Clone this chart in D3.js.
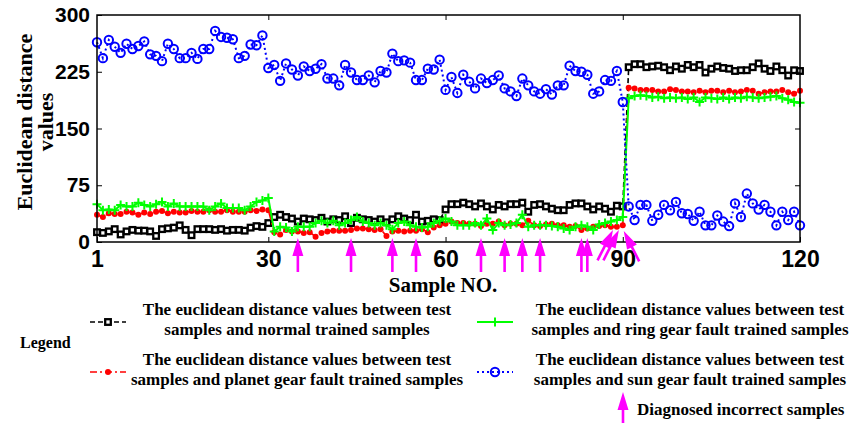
<!DOCTYPE html>
<html>
<head>
<meta charset="utf-8">
<script src="https://cdn.jsdelivr.net/npm/d3@7"></script>
<style>
  body { margin: 0; background: #fff; }
  .serif { font-family: "Liberation Serif", "Times New Roman", serif; font-weight: bold; }
  .tick text { font-family: "Liberation Sans", Arial, sans-serif; font-weight: bold; fill: #000; }
  .tick line { stroke: #000; }
</style>
</head>
<body>
<svg></svg>
<script>
let w = 851;
let h = 423;
let plotL = 97, plotR = 800, plotT = 15, plotB = 242;

const xTicks = [1, 30, 60, 90, 120];
const yTicks = [0, 75, 150, 225, 300];

// distance to normal trained samples
const normal = [
  13,12,14,17,10,14,16,15,15,14,8,17,18,19,22,16,9,17,17,17,16,17,15,16,16,15,19,21,20,25,
  33,36,33,31,27,31,30,29,32,27,30,29,34,25,32,30,29,27,30,26,30,34,31,29,36,27,28,30,29,43,
  50,50,52,50,47,51,47,43,49,47,50,50,52,40,49,50,47,44,42,42,49,51,51,47,43,47,44,40,48,47,
  231,235,235,231,232,233,231,227,232,229,234,231,234,224,229,232,230,229,226,227,227,231,236,229,226,232,227,220,227,226
];
// distance to planet gear fault trained samples
const planet = [
  36,33,38,37,37,40,39,36,39,37,40,41,38,40,39,39,41,40,40,42,40,40,42,40,40,40,42,41,43,42,
  13,10,16,14,14,12,13,7,12,14,15,15,15,16,18,18,17,16,17,8,14,15,14,15,15,17,13,19,22,24,
  27,25,25,24,24,21,24,24,27,22,24,24,22,28,22,21,23,24,22,22,20,21,16,18,20,21,22,20,20,22,
  204,203,201,201,201,199,199,202,201,199,199,198,200,198,200,200,198,200,198,199,201,200,196,198,199,199,201,198,196,200
];
// distance to ring gear fault trained samples
const ring = [
  50,42,43,42,49,47,47,52,49,47,50,53,47,51,47,47,47,47,47,42,47,51,45,45,45,42,47,53,55,58,
  14,20,19,14,20,20,20,25,28,25,28,22,25,29,33,27,25,22,25,22,17,25,27,22,20,19,20,25,28,31,
  27,22,22,22,25,22,31,16,25,22,23,25,36,20,22,22,22,21,20,18,16,20,22,20,16,23,25,27,29,33,
  190,193,194,193,191,192,190,191,190,191,189,191,185,191,190,189,191,189,191,190,192,191,190,191,192,193,190,188,185,184
];
// distance to sun gear fault trained samples
const sun = [
  264,243,267,258,250,262,255,259,265,248,246,239,262,255,243,243,250,242,255,255,279,271,270,268,243,246,261,260,273,230,
  234,213,236,228,220,232,226,229,235,216,216,207,234,224,214,214,220,211,226,224,249,239,240,237,214,214,229,228,241,201,
  218,197,221,212,203,216,210,214,220,203,199,193,216,207,199,196,202,195,207,207,233,226,225,221,196,199,214,213,226,185,
  47,29,49,49,28,36,49,42,53,38,37,28,40,22,22,35,27,21,51,33,64,51,43,49,40,22,40,29,40,22
];

// misdiagnosed samples (arrows)
const wrongUp = [35, 44, 51, 55, 66, 70, 73, 76, 83, 84];
const wrongFromLeft = [88, 89];
const wrongFromRight = [90];

const legendLabels = [
  ['The euclidean distance values between test', 'samples and normal trained samples'],
  ['The euclidean distance values between test', 'samples and planet gear fault trained samples'],
  ['The euclidean distance values between test', 'samples and ring gear fault trained samples'],
  ['The euclidean distance values between test', 'samples and sun gear fault trained samples']
];

const svg = d3.select('svg')
  .attr('width', w)
  .attr('height', h)

// Scales
const xScale = d3.scaleLinear()
  .domain([1, 120])
  .range([plotL, plotR])

const yScale = d3.scaleLinear()
  .domain([0, 300])
  .range([plotB, plotT])

const series = [
  {values: normal, color: '#000000', dash: '5,3', width: 1.6, marker: 'square'},
  {values: planet, color: '#ff0000', dash: '7,3,2,3', width: 1.6, marker: 'dot'},
  {values: ring, color: '#00ff00', dash: null, width: 2, marker: 'plus'},
  {values: sun, color: '#0000ff', dash: '2,3', width: 2, marker: 'circle'}
];

function drawMarker(g, type, color) {
  if (type === 'square') {
    g.append('rect').attr('x', -2.8).attr('y', -2.8).attr('width', 5.6).attr('height', 5.6)
      .attr('fill', '#fff').attr('stroke', color).attr('stroke-width', 2.3)
  } else if (type === 'dot') {
    g.append('circle').attr('r', 3).attr('fill', color)
  } else if (type === 'plus') {
    g.append('path').attr('d', 'M-4.5,0H4.5M0,-4.5V4.5')
      .attr('stroke', color).attr('stroke-width', 2).attr('fill', 'none')
  } else {
    g.append('circle').attr('r', 4.2).attr('fill', 'none')
      .attr('stroke', color).attr('stroke-width', 2)
  }
}

const line = d3.line()
  .x((d, i) => xScale(i + 1))
  .y(d => yScale(d))

// Draw
series.forEach(s => {
  svg.append('path')
    .datum(s.values)
    .attr('d', line)
    .attr('fill', 'none')
    .attr('stroke', s.color)
    .attr('stroke-width', s.width)
    .attr('stroke-dasharray', s.dash)

  svg.append('g')
    .selectAll('g')
    .data(s.values)
    .enter()
    .append('g')
    .attr('transform', (d, i) => `translate(${xScale(i + 1)},${yScale(d)})`)
    .each(function() { drawMarker(d3.select(this), s.marker, s.color) })
})

// Frame + axes
svg.append('rect')
  .attr('x', plotL).attr('y', plotT)
  .attr('width', plotR - plotL).attr('height', plotB - plotT)
  .attr('fill', 'none').attr('stroke', '#000').attr('stroke-width', 1.5)

const xAxis = svg.append('g')
  .attr('transform', `translate(0,${plotB})`)
  .call(d3.axisBottom(xScale).tickValues(xTicks).tickSizeInner(-5).tickSizeOuter(0).tickPadding(9))
xAxis.selectAll('text').style('font-size', '23px')

const yAxis = svg.append('g')
  .attr('transform', `translate(${plotL},0)`)
  .call(d3.axisLeft(yScale).tickValues(yTicks).tickSizeInner(-5).tickSizeOuter(0).tickPadding(7))
yAxis.selectAll('text').style('font-size', '21px')

svg.append('g')
  .attr('transform', `translate(0,${plotT})`)
  .call(d3.axisTop(xScale).tickValues(xTicks.slice(1, -1)).tickSizeInner(-5).tickSizeOuter(0).tickFormat(''))

svg.append('g')
  .attr('transform', `translate(${plotR},0)`)
  .call(d3.axisRight(yScale).tickValues(yTicks.slice(1, -1)).tickSizeInner(-5).tickSizeOuter(0).tickFormat(''))

svg.selectAll('.domain').remove()

// Axis titles
svg.append('text')
  .attr('class', 'serif')
  .attr('x', 443).attr('y', 292)
  .attr('text-anchor', 'middle')
  .style('font-size', '21px')
  .text('Sample NO.')

const yTitle = svg.append('text')
  .attr('class', 'serif')
  .attr('transform', 'translate(32,122) rotate(-90)')
  .attr('text-anchor', 'middle')
  .style('font-size', '22px')
yTitle.append('tspan').attr('x', 0).attr('y', 0).text('Euclidean distance')
yTitle.append('tspan').attr('x', 0).attr('y', 21).text('values')

// Arrows
function arrow(x, y, angle, len) {
  const g = svg.append('g').attr('transform', `translate(${x},${y}) rotate(${angle})`)
  g.append('path')
    .attr('d', `M0,0L5.5,18L1.3,18L1.3,${len}L-1.3,${len}L-1.3,18L-5.5,18Z`)
    .attr('fill', '#ff00ff')
}

wrongUp.forEach(s => arrow(xScale(s), yScale(0) - 4, 0, 34))
wrongFromLeft.forEach(s => arrow(xScale(s) + 2, yScale(0) - 12, 27, 34))
wrongFromRight.forEach(s => arrow(xScale(s) + 1, yScale(0) - 11, -27, 34))

// Legend
svg.append('text')
  .attr('class', 'serif')
  .attr('x', 20).attr('y', 348)
  .style('font-size', '16px')
  .text('Legend')

const legendPos = [
  {lx: 90, tx: 297, y: 322},
  {lx: 90, tx: 297, y: 372},
  {lx: 477, tx: 690, y: 322},
  {lx: 477, tx: 690, y: 372}
];

series.forEach((s, i) => {
  const p = legendPos[i]
  svg.append('line')
    .attr('x1', p.lx).attr('x2', p.lx + 36)
    .attr('y1', p.y).attr('y2', p.y)
    .attr('stroke', s.color)
    .attr('stroke-width', s.width)
    .attr('stroke-dasharray', s.dash)
  const m = svg.append('g').attr('transform', `translate(${p.lx + 18},${p.y})`)
  drawMarker(m, s.marker, s.color)

  svg.append('text')
    .attr('class', 'serif')
    .attr('text-anchor', 'middle')
    .style('font-size', '17px')
    .selectAll('tspan')
    .data(legendLabels[i])
    .enter()
    .append('tspan')
    .attr('x', p.tx)
    .attr('y', (d, j) => p.y - 7 + j * 20)
    .text(d => d)
})

arrow(623, 392, 0, 34)
svg.append('text')
  .attr('class', 'serif')
  .attr('x', 637).attr('y', 415)
  .style('font-size', '17px')
  .text('Diagnosed incorrect samples')
</script>
</body>
</html>
